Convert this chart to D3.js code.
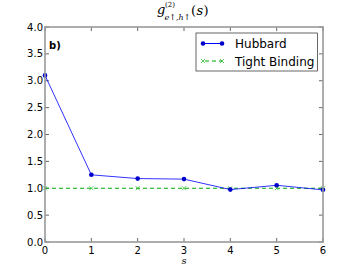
<!DOCTYPE html>
<html><head><meta charset="utf-8">
<script src="https://cdn.jsdelivr.net/npm/d3@7"></script>
<style>body{margin:0;background:#fff}svg{display:block}</style>
</head><body>
<script>
const sVals = [0,1,2,3,4,5,6];
const hubbard = [3.10,1.25,1.18,1.17,0.975,1.055,0.97];
const tightBinding = [1.0,1.0,1.0,1.0,1.0,1.0,1.0];
const xTicks = [0,1,2,3,4,5,6];
const yTicks = [0.0,0.5,1.0,1.5,2.0,2.5,3.0,3.5,4.0];

const W=360,H=269;
const m={l:45,r:37,t:27,b:27};
const svg=d3.select("body").append("svg").attr("width",W).attr("height",H);
const x=d3.scaleLinear().domain([0,6]).range([m.l,W-m.r]);
const y=d3.scaleLinear().domain([0,4]).range([H-m.b,m.t]);
const font="DejaVu Sans";

const tl=4;
const g=svg.append("g");
xTicks.forEach(v=>{
  g.append("line").attr("x1",x(v)).attr("x2",x(v)).attr("y1",y(0)).attr("y2",y(0)-tl).attr("stroke","#000").attr("stroke-width",0.6);
  g.append("line").attr("x1",x(v)).attr("x2",x(v)).attr("y1",y(4)).attr("y2",y(4)+tl).attr("stroke","#000").attr("stroke-width",0.6);
  g.append("text").attr("x",x(v)).attr("y",y(0)+12).attr("text-anchor","middle").attr("font-family",font).attr("font-size",10).text(v);
});
yTicks.forEach(v=>{
  g.append("line").attr("x1",x(0)).attr("x2",x(0)+tl).attr("y1",y(v)).attr("y2",y(v)).attr("stroke","#000").attr("stroke-width",0.6);
  g.append("line").attr("x1",x(6)).attr("x2",x(6)-tl).attr("y1",y(v)).attr("y2",y(v)).attr("stroke","#000").attr("stroke-width",0.6);
  g.append("text").attr("x",x(0)-2).attr("y",y(v)+3.5).attr("text-anchor","end").attr("font-family",font).attr("font-size",10).text(v.toFixed(1));
});

const line=d3.line().x((d,i)=>x(sVals[i])).y(d=>y(d));
svg.append("path").datum(tightBinding).attr("d",line).attr("fill","none").attr("stroke","#00aa00").attr("stroke-width",1).attr("stroke-dasharray","4,3");
tightBinding.forEach((d,i)=>{
  const cx=x(sVals[i]),cy=y(d),r=2;
  svg.append("path").attr("d",`M${cx-r},${cy-r}L${cx+r},${cy+r}M${cx-r},${cy+r}L${cx+r},${cy-r}`).attr("stroke","#33bb33").attr("stroke-width",0.8);
});
svg.append("path").datum(hubbard).attr("d",line).attr("fill","none").attr("stroke","#0000ff").attr("stroke-width",1).attr("opacity",0.8);
svg.selectAll("circle.h").data(hubbard).enter().append("circle").attr("cx",(d,i)=>x(sVals[i])).attr("cy",d=>y(d)).attr("r",2.3).attr("fill","#0000cc");

svg.append("rect").attr("x",x(0)).attr("y",y(4)).attr("width",x(6)-x(0)).attr("height",y(0)-y(4)).attr("fill","none").attr("stroke","#999").attr("stroke-width",1.6);

svg.append("text").attr("x",49).attr("y",49).attr("font-family",font).attr("font-size",10).attr("font-weight","bold").text("b)");

const lg=svg.append("g");
lg.append("rect").attr("x",196).attr("y",33).attr("width",121.5).attr("height",38).attr("fill","#fff").attr("stroke","#000").attr("stroke-width",0.6);
lg.append("line").attr("x1",203).attr("x2",222).attr("y1",43.5).attr("y2",43.5).attr("stroke","#0000ff").attr("stroke-width",1);
[203,222].forEach(cx=>lg.append("circle").attr("cx",cx).attr("cy",43.5).attr("r",2.3).attr("fill","#0000cc"));
lg.append("text").attr("x",235).attr("y",47.5).attr("font-family",font).attr("font-size",12).text("Hubbard");
lg.append("line").attr("x1",203).attr("x2",222).attr("y1",61).attr("y2",61).attr("stroke","#00aa00").attr("stroke-width",1).attr("stroke-dasharray","4,3").attr("stroke-dashoffset",-2);
[203,222].forEach(cx=>lg.append("path").attr("d",`M${cx-2},59L${cx+2},63M${cx-2},63L${cx+2},59`).attr("stroke","#33bb33").attr("stroke-width",0.8));
lg.append("text").attr("x",235).attr("y",65.5).attr("font-family",font).attr("font-size",12).text("Tight Binding");

// title
const serif="DejaVu Serif";
svg.append("text").attr("x",157).attr("y",14).attr("font-family",serif).attr("font-style","italic").attr("font-size",13).text("g");
svg.append("text").attr("x",165).attr("y",6.5).attr("font-family",serif).attr("font-size",7).text("(2)");
svg.append("text").attr("x",164.5).attr("y",20).attr("font-family",serif).attr("font-style","italic").attr("font-size",8).text("e↑,h↑");
svg.append("text").attr("x",191).attr("y",15).attr("font-family",serif).attr("font-size",13).text("(");
svg.append("text").attr("x",196.5).attr("y",15).attr("font-family",serif).attr("font-style","italic").attr("font-size",13).text("s");
svg.append("text").attr("x",203.5).attr("y",15).attr("font-family",serif).attr("font-size",13).text(")");

svg.append("text").attr("x",x(3)).attr("y",264).attr("text-anchor","middle").attr("font-family",serif).attr("font-style","italic").attr("font-size",10).text("s");
</script>
</body></html>
